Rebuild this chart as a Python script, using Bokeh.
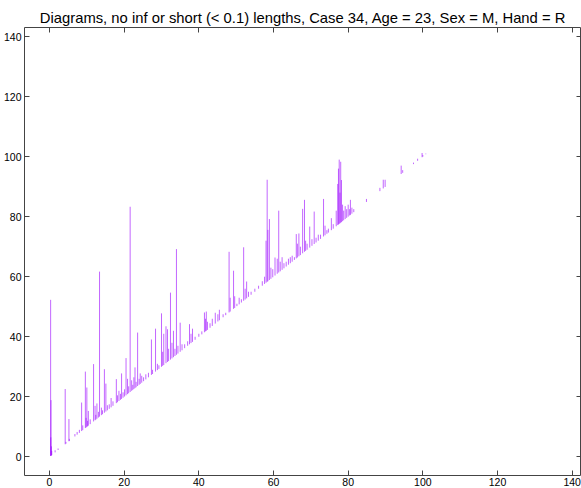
from bokeh.plotting import figure
from bokeh.models import Range1d, LinearAxis, FixedTicker, ColumnDataSource
from bokeh.embed import file_html
from bokeh.resources import INLINE

# Persistence bars: each interval drawn as a vertical stroke from (birth, birth) up to (birth, death)
births = [
    0.3, 0.4, 0.35, 0.5, 0.6, 1.5, 2.3,
    4.2, 5.2, 4.4, 5.3, 6.8, 7.4, 8.0,
    8.6, 8.9, 9.6, 9.8, 10.0, 10.2, 10.4, 10.9, 11.8, 12.2, 12.4, 12.7, 13.1, 13.4,
    13.9, 14.2, 14.7, 15.1, 15.5, 16.0, 16.5, 17.0, 17.9, 18.2, 18.6, 19.0, 19.3,
    19.7, 20.1, 20.5, 20.9, 21.2, 21.6, 22.0, 22.3, 22.6, 22.9, 23.2, 23.6, 24.0,
    24.3, 24.7, 25.2, 25.8, 26.5, 27.3, 27.6, 28.4, 28.9, 29.3, 30.0, 30.3, 30.6,
    31.2, 31.6, 31.9, 32.4, 32.8, 33.2, 33.6, 34.0, 34.4, 35.0, 35.5, 36.2, 37.0,
    37.5, 37.9, 38.3, 39.0, 40.0, 40.8, 41.5, 41.8, 42.0, 42.3, 43.0, 43.6, 44.4,
    45.1, 45.5, 46.5, 47.2, 48.1, 48.4, 49.3, 49.6, 50.2, 50.8, 51.4, 52.0, 52.4,
    52.8, 53.3, 54.0, 55.0, 56.0, 57.0, 57.6, 58.0, 58.3, 58.5, 58.9, 59.3, 59.8,
    60.4, 61.0, 61.4, 61.8, 62.3, 62.8, 63.4, 64.0, 64.5, 65.0, 65.6, 66.1, 66.4,
    66.8, 67.2, 67.8, 68.3, 68.6, 69.0, 69.7, 70.3, 70.9, 71.4, 72.0, 72.6, 73.4,
    73.8, 74.3, 74.7, 75.5, 76.0, 76.8, 77.2, 77.4, 77.6, 77.8, 78.0, 78.2, 78.5,
    78.8, 79.2, 79.6, 80.0, 80.4, 80.6, 81.0, 81.5,
    84.9, 88.5, 89.4, 89.9, 94.2, 94.6, 97.5, 98.6, 99.8, 100.0, 100.8,
]
deaths = [
    52.3, 18.9, 6.5, 3.5, 2.0, 2.2, 2.8,
    22.6, 12.6, 5.0, 6.0, 7.6, 8.3, 9.0,
    18.1, 10.5, 28.4, 13.0, 23.1, 12.0, 15.3, 12.5, 30.9, 17.0, 14.0, 17.8, 15.0, 61.7,
    16.4, 15.5, 29.2, 24.4, 17.2, 17.5, 19.6, 18.5, 25.9, 20.5, 22.0, 21.0, 27.8,
    21.5, 22.5, 32.9, 26.0, 23.5, 83.3, 25.5, 24.0, 26.5, 29.8, 25.0, 41.4, 26.0,
    27.8, 27.0, 26.5, 27.5, 28.0, 39.1, 29.0, 42.7, 31.0, 30.5, 47.8, 35.0, 41.0,
    43.5, 42.5, 36.0, 54.7, 38.0, 42.0, 36.0, 69.2, 37.0, 44.7, 37.5, 37.5, 38.5,
    44.2, 41.0, 42.7, 40.0, 41.0, 41.8, 48.1, 46.0, 48.4, 45.0, 44.5, 46.0, 48.0,
    47.5, 49.0, 47.5, 48.0, 68.3, 53.0, 62.0, 53.5, 51.0, 53.0, 52.5, 69.8, 56.0,
    58.4, 55.0, 55.0, 56.0, 57.0, 58.5, 60.0, 72.0, 92.3, 75.6, 79.2, 63.0, 62.5,
    66.4, 66.0, 82.0, 65.0, 66.5, 64.5, 65.0, 66.0, 66.5, 67.0, 66.5, 74.2, 71.0,
    74.4, 70.0, 82.6, 85.6, 72.0, 71.0, 76.7, 72.5, 81.7, 73.0, 74.0, 74.0, 85.9,
    77.0, 75.5, 76.0, 79.5, 77.5, 82.0, 90.9, 96.0, 99.0, 88.0, 98.3, 92.2, 84.0,
    82.0, 83.5, 82.5, 84.0, 82.5, 85.6, 83.0, 82.5,
    85.9, 89.6, 92.3, 92.3, 97.0, 95.5, 98.0, 99.3, 101.2, 100.5, 101.0,
]
ticks = [0, 20, 40, 60, 80, 100, 120, 140]

title = "Diagrams, no inf or short (< 0.1) lengths, Case 34, Age = 23, Sex = M, Hand = R"
font = "Liberation Sans"
axis_color = "#444444"

src = ColumnDataSource(dict(b=births, d=deaths))

p = figure(
    width=581, height=488,
    x_range=Range1d(-6.7, 142.5), y_range=Range1d(-6.2, 143.0),
    output_backend="svg", toolbar_location=None, tools="",
    x_axis_location=None, y_axis_location=None,
    min_border_left=24, min_border_right=0, min_border_top=27, min_border_bottom=0,
)
p.grid.visible = False
p.outline_line_color = axis_color
p.outline_line_width = 1
p.background_fill_color = "white"
p.border_fill_color = "white"

p.title.text = title
p.title.align = "center"
p.title.text_font = font
p.title.text_font_size = "14.8px"
p.title.text_font_style = "normal"
p.title.text_color = "black"
p.title.standoff = 3


def make_axis(labels, standoff=2):
    ax = LinearAxis(ticker=FixedTicker(ticks=ticks))
    ax.axis_line_color = None
    ax.major_tick_line_color = axis_color
    ax.major_tick_in = 5
    ax.major_tick_out = 0
    ax.minor_tick_line_color = None
    ax.major_label_text_font = font
    ax.major_label_text_font_size = "10.5px"
    ax.major_label_text_color = "black"
    if labels:
        ax.major_label_standoff = standoff
    else:
        # tick marks only on the opposite sides of the box
        ax.major_label_overrides = {t: "" for t in ticks}
        ax.major_label_standoff = 0
    return ax


p.add_layout(make_axis(True, 3), "left")
p.add_layout(make_axis(True, 2), "below")
p.add_layout(make_axis(False), "right")
p.add_layout(make_axis(False), "above")

p.segment(x0="b", y0="b", x1="b", y1="d", source=src,
          line_color="#9900ff", line_alpha=0.6, line_width=1)

open("out.html", "w").write(file_html(p, INLINE))
